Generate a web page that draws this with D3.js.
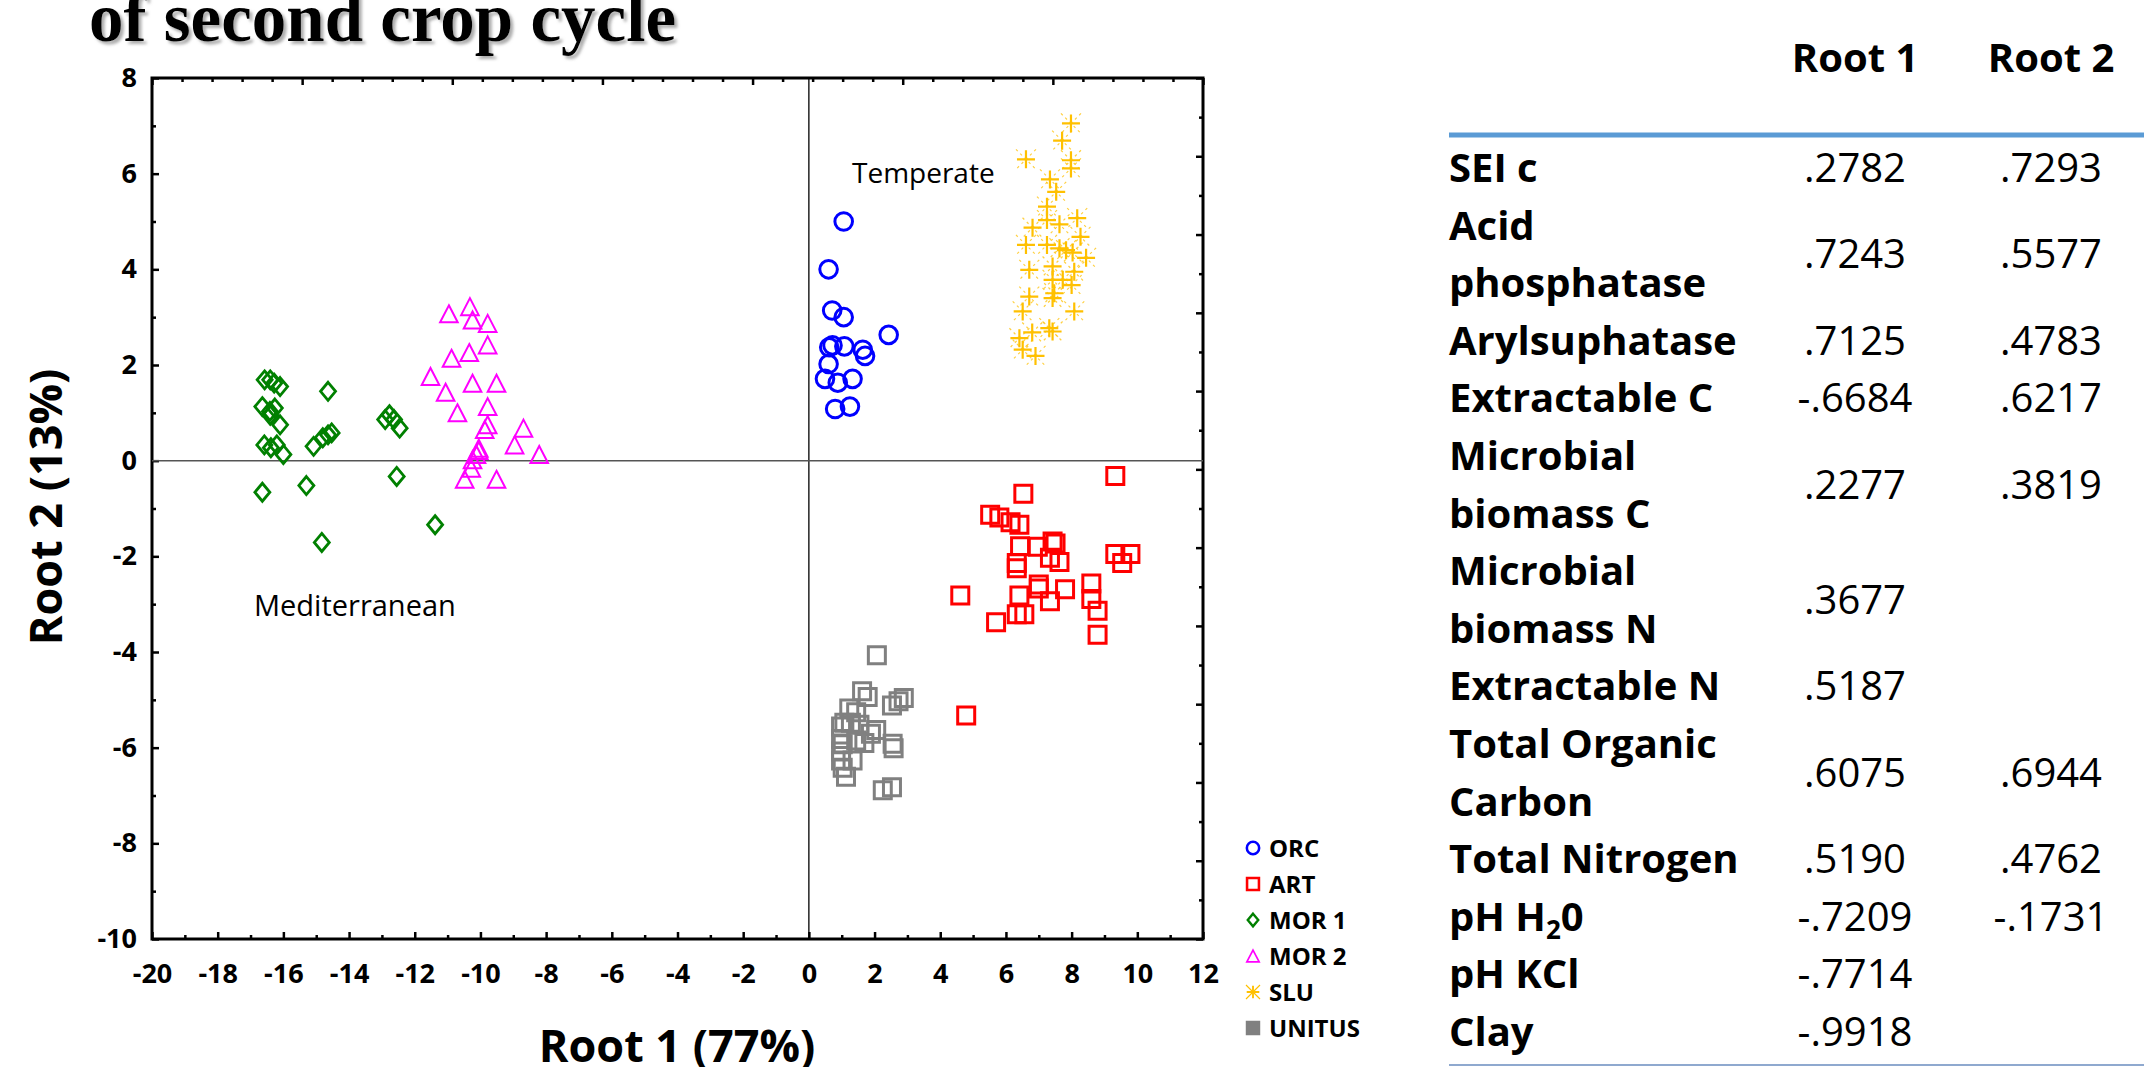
<!DOCTYPE html>
<html>
<head>
<meta charset="utf-8">
<script src="https://cdn.jsdelivr.net/npm/d3@7"></script>
<style>
  body { margin: 0; background: #fff; }
  text { font-family: "Open Sans", Lato, sans-serif; }
</style>
</head>
<body>
<svg id="chart" width="2144" height="1067"></svg>
<script>
// groups / legend
const groups = ["ORC", "ART", "MOR 1", "MOR 2", "SLU", "UNITUS"];
const colors = ["#0000ff", "#ff0000", "#008000", "#ff00ff", "#ffc000", "#808080"];
const shapes = ["circle", "square", "diamond", "triangle", "star", "square"];

// scores (Root 1, Root 2)
const orcX = [1.06, 0.60, 0.71, 1.06, 2.43, 0.62, 0.72, 1.08, 1.64, 1.71, 0.60, 0.49, 0.88, 1.33, 0.80, 1.25];
const orcY = [5.00, 4.00, 3.14, 3.00, 2.63, 2.37, 2.41, 2.39, 2.32, 2.19, 2.02, 1.71, 1.63, 1.71, 1.08, 1.13];

const artX = [9.33, 6.53, 5.52, 5.80, 6.14, 6.41, 6.43, 6.97, 7.42, 7.51, 7.34, 7.63, 9.33, 9.79, 9.54, 6.33,
              6.33, 7.00, 7.80, 8.60, 8.60, 8.79, 8.79, 7.34, 6.41, 6.33, 6.56, 5.70, 4.61, 4.79, 7.00];
const artY = [-0.32, -0.69, -1.13, -1.19, -1.29, -1.34, -1.79, -1.80, -1.69, -1.73, -2.03, -2.12, -1.95, -1.95, -2.14, -2.14,
              -2.25, -2.59, -2.69, -2.57, -2.89, -3.14, -3.64, -2.94, -2.82, -3.21, -3.21, -3.38, -2.82, -5.33, -2.67];

const mor1X = [-16.57, -16.40, -16.28, -16.10, -14.64, -16.64, -16.41, -16.26, -16.40, -16.10, -12.90, -12.77, -12.63, -12.46,
               -16.58, -16.38, -16.20, -16.00, -15.08, -14.80, -14.64, -14.53, -16.64, -15.30, -12.55, -11.38, -14.83];
const mor1Y = [1.69, 1.69, 1.62, 1.55, 1.45, 1.13, 1.03, 1.10, 0.95, 0.75, 0.86, 0.96, 0.86, 0.68,
               0.33, 0.27, 0.33, 0.13, 0.30, 0.48, 0.54, 0.58, -0.66, -0.52, -0.33, -1.34, -1.71];

const mor2X = [-10.96, -10.32, -10.24, -9.78, -9.78, -10.34, -10.88, -11.52, -11.06, -10.24, -9.51, -10.70, -9.78,
               -9.78, -9.87, -8.69, -8.96, -8.21, -10.05, -10.12, -10.24, -10.48, -10.28, -9.51, -10.05];
const mor2Y = [3.07, 3.22, 2.94, 2.87, 2.42, 2.26, 2.14, 1.76, 1.43, 1.62, 1.62, 1.00, 1.13,
               0.75, 0.65, 0.68, 0.33, 0.13, 0.26, 0.13, 0.02, -0.39, -0.16, -0.39, 0.21];

const sluX = [7.98, 7.71, 6.61, 7.98, 7.98, 7.34, 7.53, 7.25, 7.25, 7.63, 8.17, 6.81, 8.27, 6.61, 7.25, 7.63, 7.83, 8.03,
              8.44, 6.71, 7.42, 8.08, 7.42, 7.73, 8.00, 7.47, 6.71, 7.42, 8.08, 6.51, 6.80, 7.32, 7.42, 6.41, 6.51, 6.90];
const sluY = [7.05, 6.69, 6.30, 6.28, 6.11, 5.88, 5.62, 5.31, 5.03, 4.94, 5.07, 4.87, 4.68, 4.51, 4.51, 4.44, 4.40, 4.35,
              4.24, 3.99, 4.06, 3.95, 3.78, 3.78, 3.67, 3.50, 3.43, 3.40, 3.12, 3.12, 2.68, 2.77, 2.70, 2.56, 2.32, 2.19];

const unitusX = [2.07, 1.62, 1.79, 2.89, 2.73, 2.53, 1.23, 1.44, 1.08, 1.28, 1.54, 0.98, 2.05, 0.98,
                 1.69, 2.55, 2.58, 1.03, 1.44, 0.98, 1.33, 1.13, 2.25, 2.53, 1.03, 1.89, 0.98];
const unitusY = [-4.07, -4.82, -4.94, -4.96, -5.03, -5.12, -5.18, -5.26, -5.48, -5.48, -5.52, -5.56, -5.63, -5.82,
                 -5.90, -5.92, -6.01, -5.93, -5.85, -6.27, -6.27, -6.61, -6.89, -6.83, -6.42, -5.71, -6.08];

const seriesX = [orcX, artX, mor1X, mor2X, sluX, unitusX];
const seriesY = [orcY, artY, mor1Y, mor2Y, sluY, unitusY];

// axis ticks
const xTicks = [-20, -18, -16, -14, -12, -10, -8, -6, -4, -2, 0, 2, 4, 6, 8, 10, 12];
const yTicks = [-10, -8, -6, -4, -2, 0, 2, 4, 6, 8];

// structure coefficients table
const tableNames = [["SEI c"], ["Acid", "phosphatase"], ["Arylsuphatase"], ["Extractable C"], ["Microbial", "biomass C"],
                    ["Microbial", "biomass N"], ["Extractable N"], ["Total Organic", "Carbon"], ["Total Nitrogen"],
                    ["pH H\u20820"], ["pH KCl"], ["Clay"]];
const root1 = [".2782", ".7243", ".7125", "-.6684", ".2277", ".3677", ".5187", ".6075", ".5190", "-.7209", "-.7714", "-.9918"];
const root2 = [".7293", ".5577", ".4783", ".6217", ".3819", "", "", ".6944", ".4762", "-.1731", "", ""];

const svg = d3.select("#chart");

// title (top part cut off in the original slide)
const defs = svg.append("defs");
defs.append("filter").attr("id", "shadow").attr("x", "-5%").attr("y", "-20%").attr("width", "115%").attr("height", "150%")
  .append("feDropShadow").attr("dx", 3).attr("dy", 3).attr("stdDeviation", 1.5)
  .attr("flood-color", "#777").attr("flood-opacity", 0.6);

svg.append("text")
  .attr("x", 89).attr("y", 41)
  .style("font-family", "'Liberation Serif', 'DejaVu Serif', serif")
  .style("font-weight", "bold").style("font-size", "69px")
  .attr("filter", "url(#shadow)")
  .text("of second crop cycle");

// scales
const x = d3.scaleLinear().domain([-20, 12]).range([152, 1203]);
const y = d3.scaleLinear().domain([-10, 8]).range([939, 78]);
const topScale = d3.scaleLinear().domain([0, 35]).range([152, 1203]);   // top frame ticks
const rightScale = d3.scaleLinear().domain([0, 22]).range([939, 78]);   // right frame ticks
const fmt = d => String(d);  // plain hyphen like the original

function tickAxis(axis, g) {
  g.call(axis);
  g.select(".domain").remove();
  g.selectAll(".tick line").attr("stroke-width", 2.5);
  g.selectAll("text").style("font-weight", "bold").style("font-size", "27px").attr("fill", "#000");
}

// bottom
tickAxis(d3.axisBottom(x).tickValues(xTicks).tickFormat(fmt).tickSize(-7).tickPadding(25),
  svg.append("g").attr("transform", `translate(0,${y(-10)})`));
tickAxis(d3.axisBottom(x).tickValues(d3.range(-19, 12, 2)).tickSize(-4).tickFormat(""),
  svg.append("g").attr("transform", `translate(0,${y(-10)})`));
// left
tickAxis(d3.axisLeft(y).tickValues(yTicks).tickFormat(fmt).tickSize(-7).tickPadding(15),
  svg.append("g").attr("transform", `translate(${x(-20)},0)`));
tickAxis(d3.axisLeft(y).tickValues(d3.range(-9, 8, 2)).tickSize(-4).tickFormat(""),
  svg.append("g").attr("transform", `translate(${x(-20)},0)`));
// top
tickAxis(d3.axisTop(topScale).tickValues(d3.range(0, 36, 5)).tickSize(-7).tickFormat(""),
  svg.append("g").attr("transform", `translate(0,${y(8)})`));
tickAxis(d3.axisTop(topScale).tickValues(d3.range(0, 36).filter(d => d % 5)).tickSize(-4).tickFormat(""),
  svg.append("g").attr("transform", `translate(0,${y(8)})`));
// right
tickAxis(d3.axisRight(rightScale).tickValues(d3.range(0, 23, 2)).tickSize(-7).tickFormat(""),
  svg.append("g").attr("transform", `translate(${x(12)},0)`));
tickAxis(d3.axisRight(rightScale).tickValues(d3.range(1, 22, 2)).tickSize(-4).tickFormat(""),
  svg.append("g").attr("transform", `translate(${x(12)},0)`));

// frame
svg.append("rect")
  .attr("x", x(-20)).attr("y", y(8))
  .attr("width", x(12) - x(-20)).attr("height", y(-10) - y(8))
  .attr("fill", "none").attr("stroke", "#000").attr("stroke-width", 3);

// zero lines
svg.append("line").attr("x1", x(0)).attr("x2", x(0)).attr("y1", y(8)).attr("y2", y(-10))
  .attr("stroke", "#000").attr("stroke-width", 1.3);
svg.append("line").attr("x1", x(-20)).attr("x2", x(12)).attr("y1", y(0)).attr("y2", y(0))
  .attr("stroke", "#555").attr("stroke-width", 1.5);

// marker shapes
function markerPath(shape, k) {
  if (shape === "circle") return d3.symbol(d3.symbolCircle, Math.PI * (8.8 * k) ** 2)();
  if (shape === "square") { const s = 8.5 * k; return `M${-s},${-s}H${s}V${s}H${-s}Z`; }
  if (shape === "diamond") { const w = 7.5 * k, h = 9 * k; return `M0,${-h}L${w},0L0,${h}L${-w},0Z`; }
  if (shape === "triangle") { const w = 8.8 * k, h = 8.5 * k; return `M0,${-h}L${w},${h}L${-w},${h}Z`; }
  const s = 9 * k;
  return `M${-s},0H${s}M0,${-s}V${s}`;
}
const strokeW = [3, 3, 2.8, 2, 2.2, 3];

function drawMarker(g, i, k, filled) {
  if (shapes[i] === "star") {
    const s = 10 * k;
    g.append("path")
      .attr("d", `M${-s},${-s}L${s},${s}M${s},${-s}L${-s},${s}`)
      .attr("fill", "none").attr("stroke", colors[i]).attr("stroke-width", 1.2)
      .attr("stroke-dasharray", k < 1 ? null : "2.5,3.5").attr("opacity", k < 1 ? 1 : 0.75);
  }
  g.append("path")
    .attr("d", markerPath(shapes[i], k))
    .attr("fill", filled ? colors[i] : "none")
    .attr("stroke", colors[i]).attr("stroke-width", strokeW[i] * (k < 1 ? 0.85 : 1));
}

// points
groups.forEach((name, i) => {
  const pts = d3.zip(seriesX[i], seriesY[i]);
  svg.append("g").selectAll("g")
    .data(pts)
    .join("g")
      .attr("transform", d => `translate(${x(d[0])},${y(d[1])})`)
      .each(function () { drawMarker(d3.select(this), i, 1, false); });
});

// region labels
svg.append("text").attr("x", 852).attr("y", 183).style("font-size", "28px").text("Temperate");
svg.append("text").attr("x", 254).attr("y", 616).style("font-size", "29px").text("Mediterranean");

// axis titles
svg.append("text").attr("x", 677).attr("y", 1062).attr("text-anchor", "middle")
  .style("font-weight", "bold").style("font-size", "45px").text("Root 1 (77%)");
svg.append("text").attr("transform", "translate(62,507) rotate(-90)").attr("text-anchor", "middle")
  .style("font-weight", "bold").style("font-size", "45px").text("Root 2 (13%)");

// legend
const legend = svg.append("g").attr("transform", "translate(1253,848)");
groups.forEach((name, i) => {
  const row = legend.append("g").attr("transform", `translate(0,${i * 36})`);
  drawMarker(row, i, 0.7, name === "UNITUS");
  row.append("text").attr("x", 16).attr("y", 8.5)
    .style("font-weight", "bold").style("font-size", "24px").text(name);
});

// table
const col1 = 1855, col2 = 2051, nameX = 1449;
const lineY = d3.scaleLinear().domain([0, 15]).range([182, 1046]);

svg.append("text").attr("x", col1).attr("y", 72).attr("text-anchor", "middle")
  .style("font-weight", "bold").style("font-size", "40px").text("Root 1");
svg.append("text").attr("x", col2).attr("y", 72).attr("text-anchor", "middle")
  .style("font-weight", "bold").style("font-size", "40px").text("Root 2");

svg.append("line").attr("x1", nameX).attr("x2", 2144).attr("y1", 135).attr("y2", 135)
  .attr("stroke", "#5b9bd5").attr("stroke-width", 5);
svg.append("line").attr("x1", nameX).attr("x2", 2144).attr("y1", 1065).attr("y2", 1065)
  .attr("stroke", "#8fa9cf").attr("stroke-width", 2);

let lineIdx = 0;
tableNames.forEach((lines, r) => {
  const first = lineIdx;
  lines.forEach(l => {
    const t = svg.append("text").attr("x", nameX).attr("y", lineY(lineIdx))
      .style("font-weight", "bold").style("font-size", "40px");
    if (l.includes("\u2082")) {
      const parts = l.split("\u2082");
      t.append("tspan").text(parts[0]);
      t.append("tspan").attr("dy", 8).style("font-size", "26px").text("2");
      t.append("tspan").attr("dy", -8).text(parts[1]);
    } else {
      t.text(l);
    }
    lineIdx++;
  });
  const vy = (lineY(first) + lineY(lineIdx - 1)) / 2;
  svg.append("text").attr("x", col1).attr("y", vy).attr("text-anchor", "middle")
    .style("font-size", "40px").text(root1[r]);
  svg.append("text").attr("x", col2).attr("y", vy).attr("text-anchor", "middle")
    .style("font-size", "40px").text(root2[r]);
});
</script>
</body>
</html>
